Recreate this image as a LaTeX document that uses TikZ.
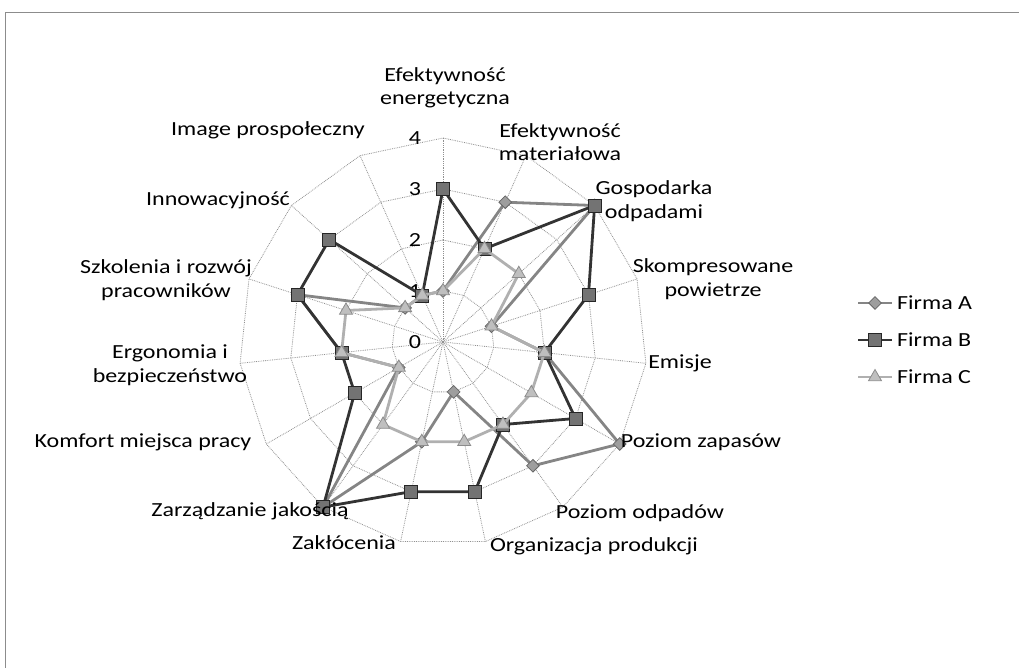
\documentclass[tikz,border=0pt]{standalone}
\usepackage{fontspec}
\setmainfont{Carlito}[FakeStretch=1.2]
\usetikzlibrary{shapes.geometric,calc}
\definecolor{lineA}{HTML}{858585}
\definecolor{lineB}{HTML}{333333}
\definecolor{lineC}{HTML}{B0B0B0}
\definecolor{gridc}{HTML}{909090}
\tikzset{
  lbl/.style={font=\fontsize{20}{23.5}\selectfont, text=black, align=center, inner sep=0pt},
  tick/.style={font=\fontsize{20}{23.5}\selectfont, text=black, inner sep=0pt},
  gridline/.style={gridc, densely dotted, line width=0.8pt},
  serA/.style={lineA, line width=2.8pt, line join=round},
  serB/.style={lineB, line width=2.8pt, line join=round},
  serC/.style={lineC, line width=2.8pt, line join=round},
  mkA/.style={diamond, draw=black!60, fill=black!38, line width=0.8pt, minimum width=13pt, minimum height=13pt, inner sep=0pt},
  mkB/.style={rectangle, draw=black!85, fill=black!55, line width=0.8pt, minimum size=13pt, inner sep=0pt},
  mkC/.style={regular polygon, regular polygon sides=3, draw=black!45, fill=black!25, line width=0.8pt, minimum size=15pt, inner sep=0pt},
}
\begin{document}
\begin{tikzpicture}[x=1pt,y=1pt]
\useasboundingbox (0,0) rectangle (1019,668);
% frame
\draw[black!45, line width=0.8pt] (5,0) -- (5,656) -- (1019,656);

\begin{scope}[shift={(443,326)}]
  \coordinate (O) at (0,0);
  % rings
  \foreach \r in {1,...,4}
    \draw[gridline] (90:51*\r) \foreach \k in {1,...,14}{ -- (90-24*\k:51*\r) } -- cycle;
  % spokes
  \foreach \k in {0,...,14}
    \draw[gridline] (O) -- (90-24*\k:204) coordinate (ax\k);
  % scale values
  \foreach \v in {0,...,4}
    \node[tick] (t\v) at (-28,51*\v) {\v};

  % data points
  \foreach \v [count=\k from 0] in {1,3,4,1,2,4,3,1,2,4,1,2,3,1,1}
    \coordinate (A-\k) at (90-24*\k:51*\v);
  \foreach \v [count=\k from 0] in {3,2,4,3,2,3,2,3,3,4,2,2,3,3,1}
    \coordinate (B-\k) at (90-24*\k:51*\v);
  \foreach \v [count=\k from 0] in {1,2,2,1,2,2,2,2,2,2,1,2,2,1,1}
    \coordinate (C-\k) at (90-24*\k:51*\v);

  % Firma A
  \draw[serA] (A-0) \foreach \k in {1,...,14}{ -- (A-\k) } -- cycle;
  \foreach \k in {0,...,14} \node[mkA] (mA-\k) at (A-\k) {};
  % Firma B
  \draw[serB] (B-0) \foreach \k in {1,...,14}{ -- (B-\k) } -- cycle;
  \foreach \k in {0,...,14} \node[mkB] (mB-\k) at (B-\k) {};
  % Firma C
  \draw[serC] (C-0) \foreach \k in {1,...,14}{ -- (C-\k) } -- cycle;
  \foreach \k in {0,...,14} \node[mkC] (mC-\k) at (C-\k) {};
\end{scope}

% category labels
\node[lbl] (l0)  at (445,580) {Efektywność\\energetyczna};
\node[lbl] (l1)  at (560,526) {Efektywność\\materiałowa};
\node[lbl] (l2)  at (654,467) {Gospodarka\\odpadami};
\node[lbl] (l3)  at (713,389) {Skompresowane\\powietrze};
\node[lbl] (l4)  at (680,305) {Emisje};
\node[lbl] (l5)  at (701,226) {Poziom zapasów};
\node[lbl] (l6)  at (640,155) {Poziom odpadów};
\node[lbl] (l7)  at (594,122) {Organizacja produkcji};
\node[lbl] (l8)  at (344,125) {Zakłócenia};
\node[lbl] (l9)  at (250,157) {Zarządzanie jakością};
\node[lbl] (l10) at (143,226) {Komfort miejsca pracy};
\node[lbl] (l11) at (170,303) {Ergonomia i\\bezpieczeństwo};
\node[lbl] (l12) at (166,388) {Szkolenia i rozwój\\pracowników};
\node[lbl] (l13) at (218,468) {Innowacyjność};
\node[lbl] (l14) at (268,538) {Image prospołeczny};

% legend
\coordinate (gA1) at (858,365); \coordinate (gA2) at (892,365);
\coordinate (gB1) at (858,328); \coordinate (gB2) at (892,328);
\coordinate (gC1) at (858,291); \coordinate (gC2) at (892,291);
\draw[serA] (gA1) -- (gA2);
\node[mkA] (kA) at ($(gA1)!0.5!(gA2)$) {};
\draw[serB] (gB1) -- (gB2);
\node[mkB] (kB) at ($(gB1)!0.5!(gB2)$) {};
\draw[serC] (gC1) -- (gC2);
\node[mkC] (kC) at ($(gC1)!0.5!(gC2)$) {};
\node[lbl, anchor=west] (tA) at (897,365) {Firma A};
\node[lbl, anchor=west] (tB) at (897,328) {Firma B};
\node[lbl, anchor=west] (tC) at (897,291) {Firma C};
\end{tikzpicture}
\end{document}
